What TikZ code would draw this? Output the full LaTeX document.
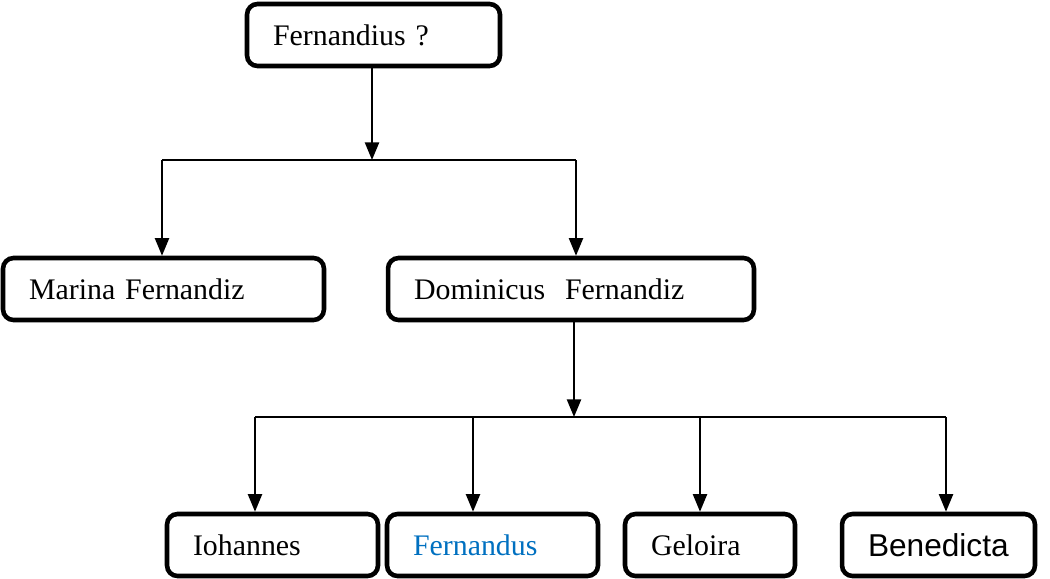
\documentclass[tikz,border=0pt]{standalone}
\usepackage{fontspec}
\setmainfont{Liberation Serif}
\newfontfamily\arialfont{Liberation Sans}
\usepackage{tikz}
\usetikzlibrary{arrows.meta,positioning,calc}
\definecolor{famBlue}{RGB}{0,112,192}

\begin{document}
\begin{tikzpicture}[x=0.02cm, y=-0.02cm,
        person/.style={draw=black, line width=2.6pt, rounded corners=6pt,
          minimum height=1.24cm, inner xsep=0.52cm, text width=#1, align=left,
          font=\fontsize{17}{20}\selectfont},
        link/.style={->, line width=1.1pt},
        bar/.style={line width=0.7pt},
        >={Triangle[length=10pt, width=8pt]}
      ]
        \useasboundingbox (0, 0) rectangle (1050, 578);

        \node[person=4.02cm] (root) at (373.5, 35) {Fernandius ?};
        \node[person=5.38cm] (marina) at (163.5, 289) {Marina Fernandiz};
        \node[person=6.28cm] (domin) at (571, 289) {Dominicus\ \ Fernandiz};
        \node[person=3.18cm] (iohan) at (272.5, 545) {Iohannes};
        \node[person=3.18cm] (fernan) at (492.5, 545) {\textcolor{famBlue}{Fernandus}};
        \node[person=2.36cm] (geloi) at (710, 545) {Geloira};
        \node[person=2.82cm] (bened) at (938.5, 545)
          {\arialfont\fontsize{18}{20}\selectfont Benedicta};

        % first generation
        \coordinate (j1) at (372, 160);
        \coordinate (j1l) at (162, 160);
        \coordinate (j1r) at (576, 160);
        \draw[link] (root.south -| j1) -- (j1);
        \draw[bar] (j1l) -- (j1r);
        \draw[link] (j1l) -- (j1l |- marina.north);
        \draw[link] (j1r) -- (j1r |- domin.north);

        % children of Dominicus
        \coordinate (j2) at (574, 417);
        \coordinate (j2a) at (255, 417);
        \coordinate (j2b) at (473, 417);
        \coordinate (j2c) at (700, 417);
        \coordinate (j2d) at (946, 417);
        \draw[link] (domin.south -| j2) -- (j2);
        \draw[bar] (j2a) -- (j2d);
        \draw[link] (j2a) -- (j2a |- iohan.north);
        \draw[link] (j2b) -- (j2b |- fernan.north);
        \draw[link] (j2c) -- (j2c |- geloi.north);
        \draw[link] (j2d) -- (j2d |- bened.north);
      \end{tikzpicture}
\end{document}
